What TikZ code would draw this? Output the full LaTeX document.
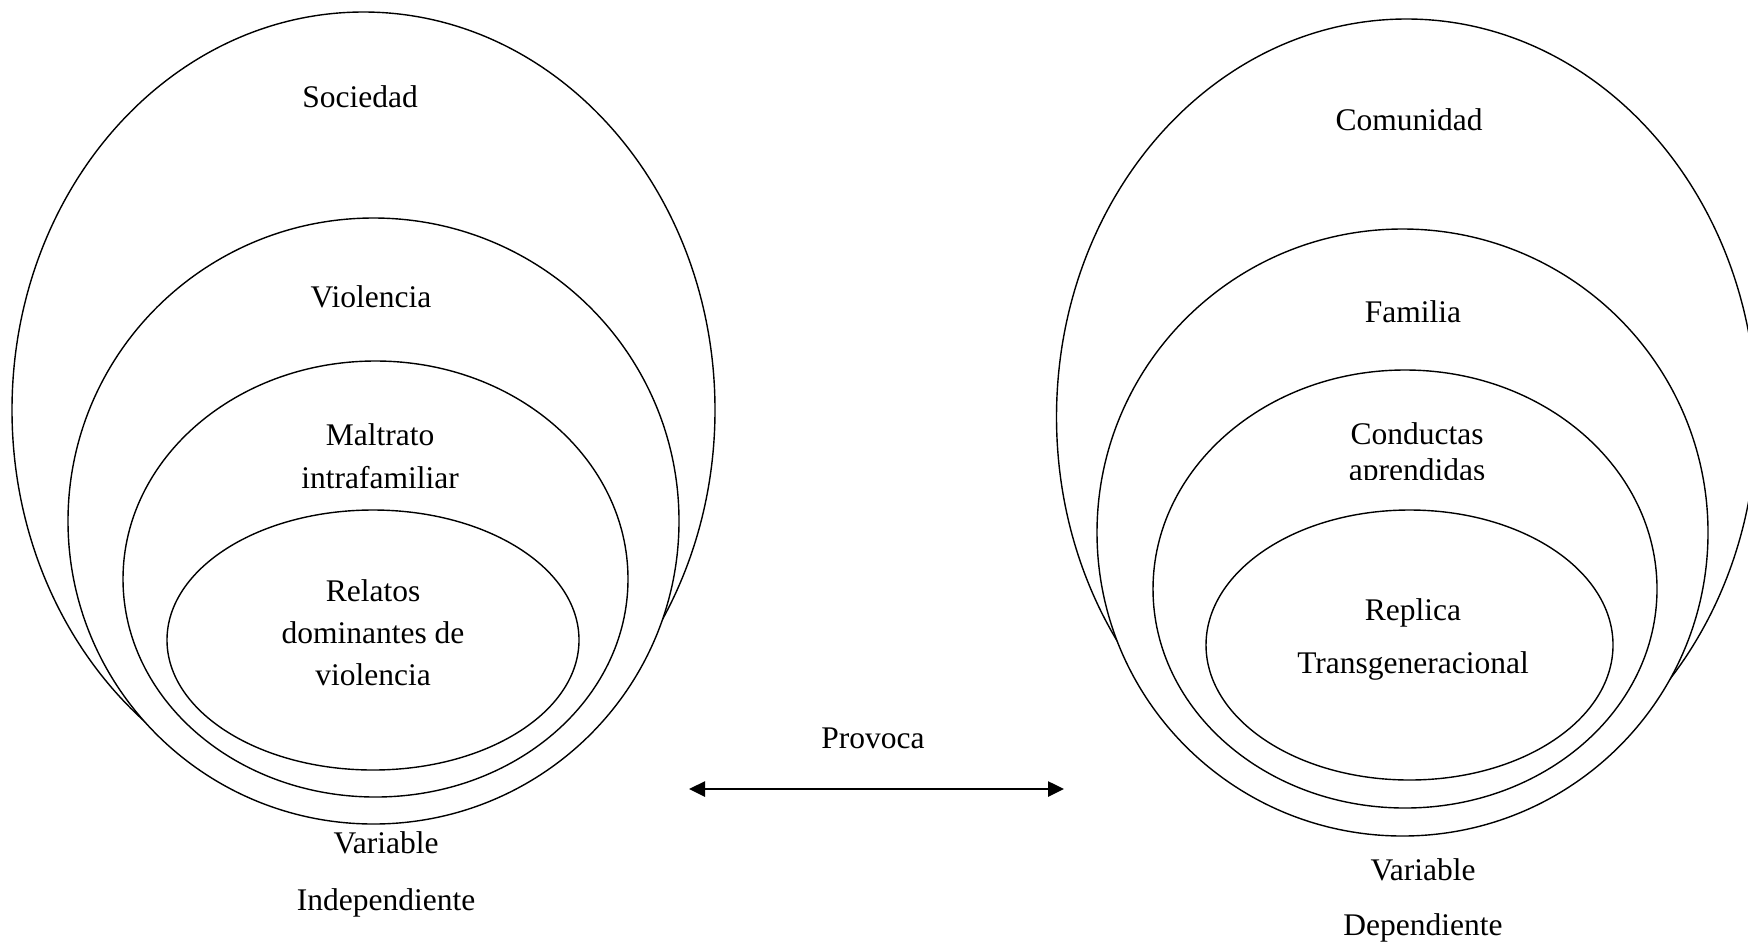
\documentclass[tikz,border=0pt]{standalone}
\usepackage{fontspec}
\setmainfont{Liberation Serif}
\usetikzlibrary{arrows.meta}

\tikzset{
    capa/.style={draw=black, line width=0.7pt, fill=white},
    lbl/.style={align=center, inner sep=0pt, font=\fontsize{15.75}{#1}\selectfont},
    lbl/.default=19,
    flecha/.style={{Triangle[length=8pt,width=7.5pt]}-{Triangle[length=8pt,width=7.5pt]}, line width=1.3pt}
}

\begin{document}
\begin{tikzpicture}[x=0.5pt, y=-0.5pt]
    \useasboundingbox (0,0) rectangle (1748,943);
    \clip (0,0) rectangle (1748,943);
    % variable independiente
    \draw 
        [capa] (363.5,410) ellipse [x radius=351.5, y radius=398];
    \draw 
        [capa] (373.5,521) ellipse [x radius=305.5, y radius=303];
    \draw 
        [capa] (375.5,579) ellipse [x radius=252.5, y radius=218];
    \draw 
        [capa] (373,640) ellipse [x radius=206, y radius=130];
    \node[lbl] (sociedad) at (360,97) {Sociedad};
    \node[lbl] (violencia) at (371,297) {Violencia};
    \node[lbl=21.5] (maltrato) at (380,456) {Maltrato\\intrafamiliar};
    \node[lbl=21] (relatos) at (373,633) {Relatos\\dominantes de\\violencia};
    \node[lbl=28.5] (indep) at (386,874) {Variable\\Independiente};
    % variable dependiente
    \draw 
        [capa] (1406.5,417) ellipse [x radius=350, y radius=398];
    \draw 
        [capa] (1402.5,532.5) ellipse [x radius=305.5, y radius=303.5];
    \draw 
        [capa] (1405,589) ellipse [x radius=252, y radius=219];
    \draw 
        [capa] (1409.5,645) ellipse [x radius=203.5, y radius=135];
    \node[lbl] (comunidad) at (1409,120) {Comunidad};
    \node[lbl] (familia) at (1413,312) {Familia};
    \begin{scope}
        \clip (1250,400) rectangle (1600,479);
        \node[lbl=18] (conductas) at (1417,455) {Conductas\\aprendidas};
    \end{scope}
    \node[lbl=26.5] (replica) at (1413,639) {Replica\\Transgeneracional};
    \node[lbl=27.5] (dep) at (1423,900) {Variable\\Dependiente};
    % relacion
    \node[lbl] (provoca) at (873,738) {Provoca};
    \coordinate (izq) at (689,789);
    \coordinate (der) at (1064,789);
    \draw 
        [flecha] (izq) -- (der);
\end{tikzpicture}
\end{document}
